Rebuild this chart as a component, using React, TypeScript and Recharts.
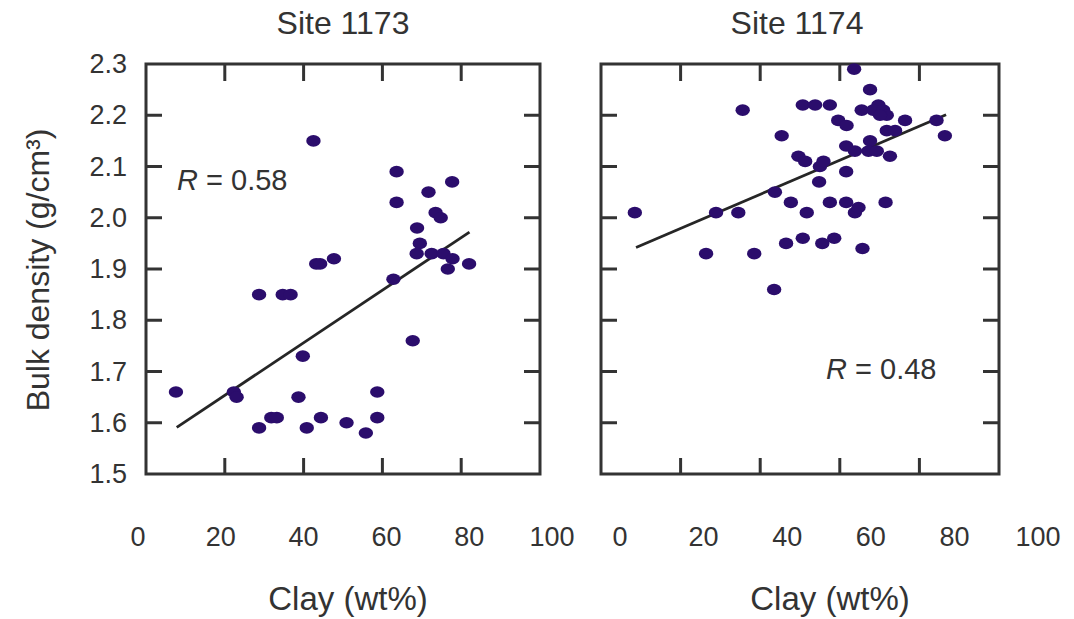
import { ScatterChart, Scatter, XAxis, YAxis, ReferenceLine, ReferenceArea } from "recharts";

// Site 1173 samples
const site1173Clay = [
  42.5, 63.6, 77.7, 71.7, 63.6, 73.5, 74.8, 68.8, 69.5, 68.7, 72.5, 75.5, 77.8, 76.6, 82.0,
  62.8, 43.2, 44.2, 47.7, 28.7, 34.7, 36.7, 67.7, 39.8, 7.6, 22.3, 23.0, 38.7, 58.7, 31.8,
  33.2, 44.4, 58.7, 28.7, 40.8, 50.9, 55.8,
];
const site1173Density = [
  2.15, 2.09, 2.07, 2.05, 2.03, 2.01, 2.0, 1.98, 1.95, 1.93, 1.93, 1.93, 1.92, 1.9, 1.91,
  1.88, 1.91, 1.91, 1.92, 1.85, 1.85, 1.85, 1.76, 1.73, 1.66, 1.66, 1.65, 1.65, 1.66, 1.61,
  1.61, 1.61, 1.61, 1.59, 1.59, 1.6, 1.58,
];

// Site 1174 samples
const site1174Clay = [
  63.6, 67.6, 35.6, 50.7, 53.8, 57.5, 65.5, 69.7, 68.4, 70.9, 71.8, 70.1, 76.4, 84.3, 86.4,
  59.6, 61.7, 71.8, 73.9, 45.4, 61.6, 67.6, 67.2, 69.3, 63.8, 72.6, 49.6, 51.3, 55.0, 55.9,
  61.6, 54.8, 43.7, 47.7, 51.7, 57.5, 61.6, 63.8, 64.7, 71.5, 8.5, 28.9, 34.5, 26.4, 38.5,
  46.5, 50.7, 55.6, 58.6, 65.7, 43.5,
];
const site1174Density = [
  2.29, 2.25, 2.21, 2.22, 2.22, 2.22, 2.21, 2.22, 2.21, 2.21, 2.2, 2.2, 2.19, 2.19, 2.16,
  2.19, 2.18, 2.17, 2.17, 2.16, 2.14, 2.15, 2.13, 2.13, 2.13, 2.12, 2.12, 2.11, 2.1, 2.11,
  2.09, 2.07, 2.05, 2.03, 2.01, 2.03, 2.03, 2.01, 2.02, 2.03, 2.01, 2.01, 2.01, 1.93, 1.93,
  1.95, 1.96, 1.95, 1.96, 1.94, 1.86,
];

// regression line end points
const fit1173Clay = [7.8, 82.1];
const fit1173Density = [1.591, 1.972];
const fit1174Clay = [8.8, 86.7];
const fit1174Density = [1.942, 2.201];

const clayTicks = [0, 20, 40, 60, 80, 100];
const densityTicks = [1.5, 1.6, 1.7, 1.8, 1.9, 2.0, 2.1, 2.2, 2.3];

const FONT = "'Liberation Sans', Arial, Helvetica, sans-serif";
const INK = "#333";
const BOX = "#333";
const DOT = "#2b0d6c";

const PLOT_TOP = 64;
const PLOT_BOTTOM = 474;
const TICK_LEN = 16;
const LINE_W = 3;

const toPoints = (xs: number[], ys: number[]) => xs.map((x, i) => ({ clay: x, density: ys[i] }));

function Dot(props: any) {
  const { cx, cy } = props;
  if (cx == null || cy == null) return null;
  return <ellipse cx={cx} cy={cy} rx={7.2} ry={5.8} fill={DOT} />;
}

// bottom axis tick: inward marks on bottom and top edge + shifted label
function ClayTick(props: any) {
  const { x, payload, shift, stretch } = props;
  const inner = payload.value > 0 && payload.value < 100;
  return (
    <g>
      {inner && (
        <>
          <line x1={x} x2={x} y1={PLOT_BOTTOM} y2={PLOT_BOTTOM - TICK_LEN} stroke={BOX} strokeWidth={LINE_W} />
          <line x1={x} x2={x} y1={PLOT_TOP} y2={PLOT_TOP + TICK_LEN + 1} stroke={BOX} strokeWidth={LINE_W} />
        </>
      )}
      <text
        x={x + shift + stretch * payload.value}
        y={537}
        textAnchor="middle"
        dominantBaseline="central"
        fontSize={27}
        fontFamily={FONT}
        fill={INK}
      >
        {payload.value}
      </text>
    </g>
  );
}

// left axis tick: inward marks on left and right edge + optional label
function DensityTick(props: any) {
  const { y, payload, left, right, showLabel } = props;
  const inner = payload.value > 1.5 && payload.value < 2.3;
  return (
    <g>
      {inner && (
        <>
          <line x1={left} x2={left + TICK_LEN} y1={y} y2={y} stroke={BOX} strokeWidth={LINE_W} />
          <line x1={right} x2={right - TICK_LEN} y1={y} y2={y} stroke={BOX} strokeWidth={LINE_W} />
        </>
      )}
      {showLabel && (
        <text
          x={left - 19}
          y={y}
          textAnchor="end"
          dominantBaseline="central"
          fontSize={27}
          fontFamily={FONT}
          fill={INK}
        >
          {Number(payload.value).toFixed(1)}
        </text>
      )}
    </g>
  );
}

type PanelProps = {
  points: { clay: number; density: number }[];
  fitClay: number[];
  fitDensity: number[];
  left: number;
  width: number;
  plotLeft: number;
  plotRight: number;
  showYLabels: boolean;
  tickShift: number;
};

function Panel({ points, fitClay, fitDensity, left, width, plotLeft, plotRight, showYLabels, tickShift }: PanelProps) {
  return (
    <div style={{ position: "absolute", left, top: 0 }}>
      <ScatterChart
        width={width}
        height={619}
        margin={{ top: PLOT_TOP, right: width - plotRight, left: 0, bottom: 0 }}
      >
        <XAxis
          type="number"
          dataKey="clay"
          domain={[0, 100]}
          ticks={clayTicks}
          height={619 - PLOT_BOTTOM}
          axisLine={false}
          tickLine={false}
          tick={<ClayTick shift={tickShift} stretch={0.2} />}
          interval={0}
        />
        <YAxis
          type="number"
          dataKey="density"
          domain={[1.5, 2.3]}
          ticks={densityTicks}
          width={plotLeft}
          axisLine={false}
          tickLine={false}
          tick={<DensityTick left={plotLeft} right={plotRight} showLabel={showYLabels} />}
          interval={0}
        />
        <ReferenceArea
          x1={0}
          x2={100}
          y1={1.5}
          y2={2.3}
          fill="none"
          fillOpacity={0}
          stroke={BOX}
          strokeWidth={LINE_W}
          strokeOpacity={1}
        />
        <ReferenceLine
          segment={[
            { x: fitClay[0], y: fitDensity[0] },
            { x: fitClay[1], y: fitDensity[1] },
          ]}
          stroke="#262626"
          strokeWidth={2.8}
        />
        <Scatter data={points} shape={<Dot />} isAnimationActive={false} />
      </ScatterChart>
    </div>
  );
}

const textStyle = (size: number): React.CSSProperties => ({
  position: "absolute",
  fontFamily: FONT,
  fontSize: size,
  lineHeight: `${size}px`,
  color: INK,
  whiteSpace: "nowrap",
});

function Centered({ x, y, size, children }: { x: number; y: number; size: number; children: React.ReactNode }) {
  return (
    <div style={{ ...textStyle(size), left: x, top: y - size / 2, transform: "translateX(-50%)" }}>
      {children}
    </div>
  );
}

export default function App() {
  return (
    <div
      style={{
        position: "absolute",
        left: 0,
        top: 0,
        width: 1074,
        height: 619,
        background: "#fff",
        overflow: "hidden",
      }}
    >
      <Panel
        points={toPoints(site1173Clay, site1173Density)}
        fitClay={fit1173Clay}
        fitDensity={fit1173Density}
        left={0}
        width={600}
        plotLeft={146}
        plotRight={540}
        showYLabels={true}
        tickShift={-8}
      />
      <Panel
        points={toPoints(site1174Clay, site1174Density)}
        fitClay={fit1174Clay}
        fitDensity={fit1174Density}
        left={560}
        width={514}
        plotLeft={41}
        plotRight={439}
        showYLabels={false}
        tickShift={19}
      />

      <Centered x={343} y={23} size={32}>Site 1173</Centered>
      <Centered x={797} y={23} size={32}>Site 1174</Centered>
      <Centered x={348} y={598} size={33}>Clay (wt%)</Centered>
      <Centered x={830} y={598} size={33}>Clay (wt%)</Centered>

      <div
        style={{
          ...textStyle(32),
          left: 38,
          top: 270 - 16,
          transform: "translateX(-50%) rotate(-90deg)",
        }}
      >
        Bulk density (g/cm³)
      </div>

      <div style={{ ...textStyle(29), left: 177, top: 180 - 14.5 }}>
        <i>R</i> = 0.58
      </div>
      <div style={{ ...textStyle(29), left: 826, top: 369 - 14.5 }}>
        <i>R</i> = 0.48
      </div>
    </div>
  );
}
